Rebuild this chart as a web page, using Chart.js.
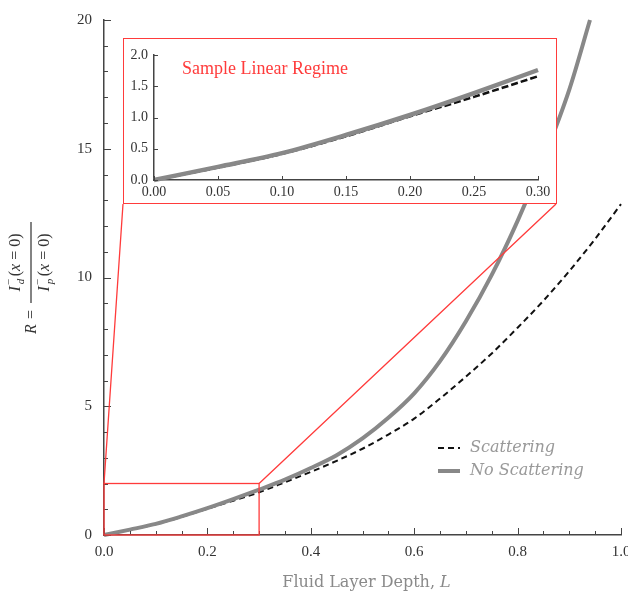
<!DOCTYPE html>
<html>
<head>
<meta charset="utf-8">
<script src="https://cdn.jsdelivr.net/npm/chart.js@4.4.1/dist/chart.umd.min.js"></script>
<style>
    body { margin: 0; background: #fff; }
    #wrap { position: relative; width: 628px; height: 593px; }
    canvas { display: block; }
    #inset { position: absolute; left: 123px; top: 38px; width: 432px; height: 164px; border: 1px solid #ff3b3b; background: #fff; }
</style>
</head>
<body>
<div id="wrap">
    <canvas id="mainChart" width="628" height="593"></canvas>
    <div id="inset"><canvas id="insetChart" width="432" height="164"></canvas></div>
</div>
<script>
// data
const depthScat = [0, 0.05, 0.1, 0.15, 0.2, 0.25, 0.3, 0.35, 0.4, 0.45, 0.5, 0.55, 0.6, 0.65, 0.7, 0.75, 0.8, 0.85, 0.9, 0.95, 1.0];
const rScat = [0, 0.2, 0.42, 0.7, 1.02, 1.33, 1.66, 2.05, 2.45, 2.88, 3.35, 3.9, 4.52, 5.3, 6.15, 7.05, 8.05, 9.1, 10.25, 11.5, 12.85];
const depthNoScat = [0, 0.05, 0.1, 0.15, 0.2, 0.25, 0.3, 0.35, 0.4, 0.45, 0.5, 0.55, 0.6, 0.65, 0.7, 0.75, 0.8, 0.85, 0.9, 0.94];
const rNoScat = [0, 0.21, 0.43, 0.72, 1.04, 1.39, 1.76, 2.15, 2.6, 3.1, 3.75, 4.55, 5.5, 6.75, 8.3, 10.1, 12.2, 14.6, 17.3, 20];

// inset (linear regime)
const insetDepth = [0, 0.05, 0.1, 0.15, 0.2, 0.25, 0.3];
const insetScat = [0, 0.2, 0.42, 0.7, 1.02, 1.33, 1.66];
const insetNoScat = [0, 0.21, 0.43, 0.72, 1.04, 1.39, 1.76];

const seriesNames = ['Scattering', 'No Scattering'];
const xTitle = 'Fluid Layer Depth, ';
const insetTitle = 'Sample Linear Regime';
const zoomBox = { x0: 0, x1: 0.3, y0: 0, y1: 2 };

const SERIF = '"Liberation Serif", serif';
const SLAB = '"DejaVu Serif", serif';
const RED = '#ff3b3b';
const AXIS = '#444';

const toPts = (xs, ys) => xs.map((x, i) => ({ x: x, y: ys[i] }));

// inset box in page pixels (matches #inset)
const insetRect = { left: 123, top: 38, right: 556, bottom: 204 };

const inwardTicks = (chart, xStep, xMajor, yStep, yMajor, bigLen, smallLen) => {
    const ctx = chart.ctx;
    const xs = chart.scales.x, ys = chart.scales.y;
    const a = chart.chartArea;
    ctx.save();
    ctx.strokeStyle = AXIS;
    ctx.lineWidth = 1;
    ctx.beginPath();
    const nx = Math.round((xs.max - xs.min) / xStep);
    for (let i = 0; i <= nx; i++) {
        const px = Math.round(xs.getPixelForValue(xs.min + i * xStep)) + 0.5;
        const len = (i % xMajor === 0) ? bigLen : smallLen;
        ctx.moveTo(px, a.bottom);
        ctx.lineTo(px, a.bottom - len);
    }
    const ny = Math.round((ys.max - ys.min) / yStep);
    for (let i = 0; i <= ny; i++) {
        const py = Math.round(ys.getPixelForValue(ys.min + i * yStep)) + 0.5;
        const len = (i % yMajor === 0) ? bigLen : smallLen;
        ctx.moveTo(a.left, py);
        ctx.lineTo(a.left + len, py);
    }
    ctx.stroke();
    ctx.restore();
};

// I^-_sub (x = 0), returns width
const intensity = (ctx, sub, x, y, draw) => {
    const x0 = x;
    ctx.font = 'italic 16px ' + SERIF;
    if (draw) ctx.fillText('I', x, y);
    x += ctx.measureText('I').width + 1;
    ctx.font = '11px ' + SERIF;
    if (draw) ctx.fillText('\u2212', x, y - 8);
    ctx.font = 'italic 11px ' + SERIF;
    if (draw) ctx.fillText(sub, x + 1, y + 4);
    x += 9;
    ctx.font = '16px ' + SERIF;
    if (draw) ctx.fillText('(', x, y);
    x += ctx.measureText('(').width;
    ctx.font = 'italic 16px ' + SERIF;
    if (draw) ctx.fillText('x', x, y);
    x += ctx.measureText('x').width;
    ctx.font = '16px ' + SERIF;
    if (draw) ctx.fillText(' = 0)', x, y);
    x += ctx.measureText(' = 0)').width;
    return x - x0;
};

const mainDecor = {
    id: 'mainDecor',
    afterDatasetsDraw(chart) {
        const ctx = chart.ctx;
        const xs = chart.scales.x, ys = chart.scales.y;
        inwardTicks(chart, 0.05, 4, 1, 5, 7, 4);

        // zoom box + connectors to the inset
        const bx0 = xs.getPixelForValue(zoomBox.x0), bx1 = xs.getPixelForValue(zoomBox.x1);
        const by0 = ys.getPixelForValue(zoomBox.y0), by1 = ys.getPixelForValue(zoomBox.y1);
        ctx.save();
        ctx.strokeStyle = RED;
        ctx.lineWidth = 1.3;
        ctx.strokeRect(bx0, by1, bx1 - bx0, by0 - by1);
        ctx.beginPath();
        ctx.moveTo(bx0, by1);
        ctx.lineTo(insetRect.left, insetRect.bottom);
        ctx.moveTo(bx1, by1);
        ctx.lineTo(insetRect.right, insetRect.bottom);
        ctx.stroke();
        ctx.restore();

        // legend
        ctx.save();
        chart.data.datasets.forEach((ds, i) => {
            const y = 448 + i * 23;
            ctx.strokeStyle = ds.borderColor;
            ctx.lineWidth = ds.borderWidth;
            ctx.setLineDash(ds.borderDash || []);
            ctx.beginPath();
            ctx.moveTo(438, y);
            ctx.lineTo(460, y);
            ctx.stroke();
            ctx.setLineDash([]);
            ctx.fillStyle = '#999';
            ctx.font = 'italic 16px ' + SLAB;
            ctx.textBaseline = 'middle';
            ctx.fillText(ds.label, 470, y);
        });
        ctx.restore();

        // x title
        ctx.save();
        ctx.fillStyle = '#8a8a8a';
        ctx.textBaseline = 'middle';
        ctx.font = '16px ' + SLAB;
        const w1 = ctx.measureText(xTitle).width;
        ctx.font = 'italic 16px ' + SLAB;
        const w2 = ctx.measureText('L').width;
        const cx = (chart.chartArea.left + chart.chartArea.right) / 2 + 4;
        let tx = cx - (w1 + w2) / 2;
        ctx.font = '16px ' + SLAB;
        ctx.fillText(xTitle, tx, 583);
        ctx.font = 'italic 16px ' + SLAB;
        ctx.fillText('L', tx + w1, 583);
        ctx.restore();

        // y title: R = I_d(x=0) / I_p(x=0), rotated
        ctx.save();
        ctx.translate(31, 334);
        ctx.rotate(-Math.PI / 2);
        ctx.fillStyle = '#333';
        ctx.textBaseline = 'alphabetic';
        ctx.font = 'italic 16px ' + SERIF;
        ctx.fillText('R', 0, 5);
        ctx.font = '16px ' + SERIF;
        ctx.fillText('=', 15, 5);
        const barL = 31, barR = 112;
        ctx.fillRect(barL, -0.6, barR - barL, 1.2);
        const wn = intensity(ctx, 'd', 0, 0, false);
        const start = (barL + barR) / 2 - wn / 2;
        intensity(ctx, 'd', start, -11, true);
        intensity(ctx, 'p', start, 18, true);
        ctx.restore();
    }
};

const insetDecor = {
    id: 'insetDecor',
    afterDatasetsDraw(chart) {
        inwardTicks(chart, 0.05, 1, 0.5, 1, 4, 4);
        const ctx = chart.ctx;
        ctx.save();
        ctx.fillStyle = RED;
        ctx.font = '18px ' + SERIF;
        ctx.textBaseline = 'middle';
        ctx.fillText(insetTitle, chart.chartArea.left + 28, 30);
        ctx.restore();
    }
};

const mainStyles = [
    { borderColor: '#111', borderWidth: 2, borderDash: [6, 4] },
    { borderColor: '#888', borderWidth: 4, borderDash: [] }
];
const insetStyles = [
    { borderColor: '#111', borderWidth: 2.6, borderDash: [7, 3] },
    { borderColor: '#888', borderWidth: 4.5, borderDash: [] }
];

const makeDatasets = (sets, styles) => sets.map((pts, i) => ({
    label: seriesNames[i],
    data: pts,
    borderColor: styles[i].borderColor,
    borderWidth: styles[i].borderWidth,
    borderDash: styles[i].borderDash,
    pointRadius: 0,
    fill: false,
    cubicInterpolationMode: 'monotone',
    clip: 4,
    order: 1 - i
}));

const axisCommon = (min, max, step, digits, pad, size, fit) => ({
    type: 'linear',
    min: min,
    max: max,
    grid: { display: false, drawTicks: false },
    border: { display: true, color: AXIS, width: 1.5 },
    ticks: {
        stepSize: step,
        padding: pad,
        color: '#333',
        font: { family: SERIF, size: size },
        callback: v => Number(v).toFixed(digits)
    },
    afterFit: fit
});

new Chart(document.getElementById('mainChart'), {
    type: 'line',
    data: { datasets: makeDatasets([toPts(depthScat, rScat), toPts(depthNoScat, rNoScat)], mainStyles) },
    options: {
        responsive: false,
        animation: false,
        devicePixelRatio: 1,
        layout: { padding: { top: 20, right: 7, left: 0, bottom: 0 } },
        plugins: { legend: { display: false }, tooltip: { enabled: false } },
        scales: {
            x: axisCommon(0, 1, 0.2, 1, 8, 15, s => { s.height = 58; s.paddingLeft = 0; s.paddingRight = 0; }),
            y: axisCommon(0, 20, 5, 0, 12, 15, s => { s.width = 104; s.paddingTop = 0; s.paddingBottom = 0; })
        }
    },
    plugins: [mainDecor]
});

new Chart(document.getElementById('insetChart'), {
    type: 'line',
    data: { datasets: makeDatasets([toPts(insetDepth, insetScat), toPts(insetDepth, insetNoScat)], insetStyles) },
    options: {
        responsive: false,
        animation: false,
        devicePixelRatio: 1,
        layout: { padding: { top: 16, right: 18, left: 0, bottom: 0 } },
        plugins: { legend: { display: false }, tooltip: { enabled: false } },
        scales: {
            x: axisCommon(0, 0.3, 0.05, 2, 4, 14, s => { s.height = 23; s.paddingLeft = 0; s.paddingRight = 0; }),
            y: axisCommon(0, 2, 0.5, 1, 6, 14, s => { s.width = 30; s.paddingTop = 0; s.paddingBottom = 0; })
        }
    },
    plugins: [insetDecor]
});
</script>
</body>
</html>
